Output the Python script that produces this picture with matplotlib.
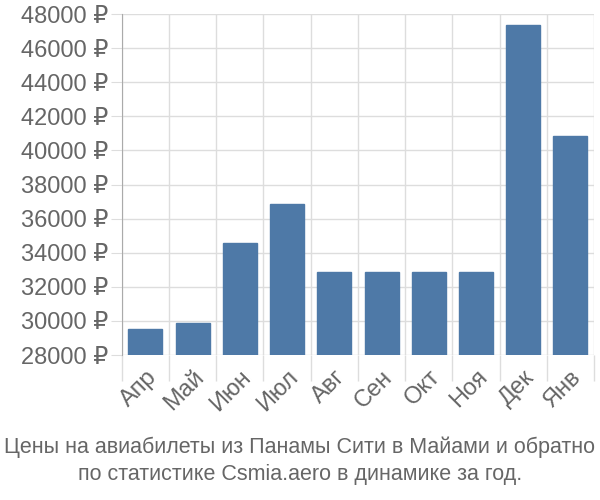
import numpy as np
import matplotlib
matplotlib.use("agg")
import matplotlib.pyplot as plt
from matplotlib.ticker import FixedLocator

months = ['Апр', 'Май', 'Июн', 'Июл', 'Авг', 'Сен', 'Окт', 'Ноя', 'Дек', 'Янв']
prices = [29550, 29900, 34580, 36850, 32850, 32850, 32850, 32850, 47380, 40820]
yticks = list(range(28000, 48001, 2000))
caption = ('Цены на авиабилеты из Панамы Сити в Майами и обратно\n'
           'по статистике Csmia.aero в динамике за год.')

plt.rcParams['font.family'] = ['Liberation Sans', 'DejaVu Sans']
text_color = '#666666'
grid_color = '#dddddd'

fig = plt.figure(figsize=(6.0, 5.0), dpi=100)
ax = fig.add_axes([0.203, 0.29, 0.787, 0.682])

x = np.arange(len(months))
ax.bar(x, prices, width=0.72, color='#4e79a7', edgecolor='#4e79a7', zorder=3)

ax.set_xlim(-0.5, len(months) - 0.5)
ax.set_ylim(28000, 48000)
ax.set_yticks(yticks)
ax.set_yticklabels([f'{v} ₽' for v in yticks])
ax.set_xticks(x)
ax.set_xticklabels(months, rotation=45, ha='right', va='top', rotation_mode='anchor')
ax.xaxis.set_minor_locator(FixedLocator(np.arange(-0.5, len(months), 1.0)))

ax.grid(axis='y', color=grid_color, linewidth=1, zorder=0)
ax.grid(axis='x', which='minor', color=grid_color, linewidth=1, zorder=0)
ax.tick_params(axis='y', length=8, color=grid_color, labelsize=17, labelcolor=text_color, pad=2)
ax.tick_params(axis='x', which='major', length=0, labelsize=17, labelcolor=text_color, pad=8)
ax.tick_params(axis='x', which='minor', length=19, color=grid_color, width=1)

for side in ['top', 'right', 'bottom']:
    ax.spines[side].set_visible(False)
ax.spines['left'].set_color('#aaaaaa')
ax.spines['left'].set_bounds(28000, 48000)

fig.text(0.5, 0.03, caption, ha='center', va='bottom', fontsize=15.5,
         color=text_color, linespacing=1.35)

fig.savefig('out.png', dpi=100)
plt.close(fig)
